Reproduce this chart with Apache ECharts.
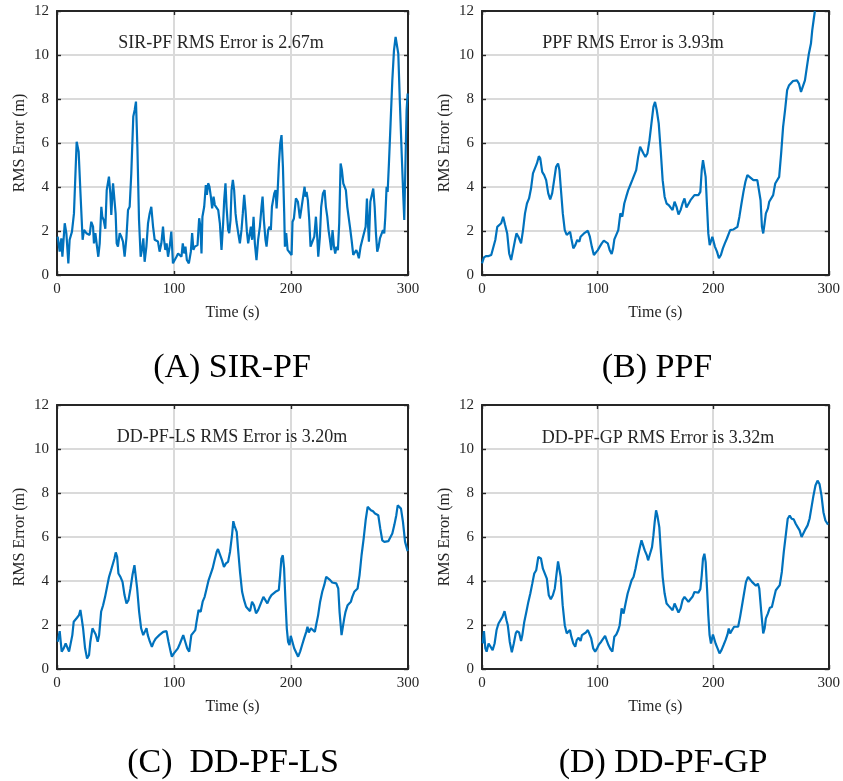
<!DOCTYPE html>
<html>
<head>
<meta charset="utf-8">
<title>RMS Error</title>
<script src="https://cdn.jsdelivr.net/npm/echarts@6/dist/echarts.min.js"></script>
<style>
html, body { margin: 0; padding: 0; background: #fff; }
#chart { width: 843px; height: 781px; }
</style>
</head>
<body>
<div id="chart"></div>
<script>
// [time (s), rms error (m)]
var sirpf = [[0.6,1.74],[2.3,1.06],[3.7,1.67],[4.6,0.83],[6.6,2.35],[8,1.9],[9.7,0.53],[10.8,1.6],[12.8,1.97],[14.5,2.8],[16.8,6.06],[18.5,5.6],[20.2,3.56],[21.9,1.6],[23.1,2.05],[25.1,1.9],[26.5,1.97],[27.9,1.82],[29.3,2.42],[30.8,2.2],[31.6,1.44],[32.8,1.9],[34.2,1.29],[35.3,0.83],[36.5,1.44],[37.9,3.1],[38.7,2.65],[39.9,2.5],[41.3,2.1],[42.5,3.86],[43.6,3.94],[44.4,4.47],[45.6,3.7],[46.4,2.73],[47.9,4.17],[49.3,4.17],[50.1,2.8],[51,1.44],[52.1,1.29],[53.6,1.9],[55,1.74],[56.4,1.52],[57.8,0.83],[59.3,1.67],[60.7,2.95],[62.1,3.1],[63.5,4.62],[65.2,7.2],[66.4,7.5],[67.5,7.88],[68.7,5.83],[70.1,2.5],[71.5,0.83],[72.6,1.14],[73.8,1.67],[74.9,0.6],[76.4,1.29],[77.8,2.35],[79.2,2.8],[80.6,3.1],[82.1,2.2],[83.5,1.6],[84.9,1.52],[86.3,1.52],[87.7,1.06],[89.2,1.44],[90.6,2.2],[91.5,1.6],[92.6,1.14],[93.7,1.44],[94.9,0.83],[96.3,1.29],[97.7,1.97],[99.1,0.53],
  [100.7,0.53],[102.1,0.83],[103.5,0.98],[104.9,0.91],[106.4,0.83],[107.5,1.44],[108.7,0.98],[109.8,1.29],[111,0.68],[112.7,0.53],[114.4,1.06],[115.5,1.9],[116.6,1.14],[117.8,1.29],[118.9,1.29],[120.1,1.36],[121.5,2.58],[122.6,2.2],[123.5,0.98],[124.3,2.65],[125.8,3.1],[127.2,4.09],[128.1,3.64],[129.2,4.17],[130.3,4.02],[131.5,3.56],[132.6,3.03],[133.8,3.56],[134.9,3.18],[136.6,3.1],[137.8,2.95],[139.2,2.35],[140.6,1.14],[142,2.35],[142.9,3.41],[144,4.17],[144.9,3.1],[146.3,2.05],[147.2,1.9],[148.3,2.5],[149.2,3.86],[150.3,4.32],[151.4,3.86],[152.6,2.8],[153.4,2.42],[154.9,1.9],[156.3,1.44],[157.7,2.05],[158.8,2.8],[160,3.64],[161.1,2.95],[162.3,1.97],[163.4,1.44],[164.8,1.9],[165.7,2.2],[166.8,1.6],[168,2.65],[169.1,1.44],[170.5,0.68],[171.9,1.6],[173.4,2.2],[174.8,3.1],[175.7,3.56],[176.8,2.5],[178.2,1.6],[179.1,1.29],[180.5,2.05],[181.7,2.2],[182.8,2.05],[183.7,3.1],[184.8,3.18],[185.7,3.71],[186.8,3.86],[187.7,3.03],[188.5,3.71],[189.7,5.08],[190.8,5.98],[191.9,6.36],[193.1,4.92],[194.2,2.8],[194.8,1.29],[195.9,1.9],[197.1,1.14],[198.5,1.14],
  [199,1.13],[200.5,0.91],[201.3,2.42],[202.5,2.57],[204.2,3.48],[205.9,3.33],[207.6,2.57],[208.7,2.95],[210.4,3.03],[211.6,4.01],[212.4,3.56],[213.3,3.78],[214.4,3.4],[215.6,2.5],[216.7,1.29],[218.4,1.29],[219.9,1.74],[221.3,2.65],[222.4,1.74],[223.3,0.83],[224.7,1.74],[225.8,3.1],[227.3,3.71],[228.7,3.86],[229.8,3.1],[231,2.65],[232.1,2.04],[233.3,1.59],[234.4,1.13],[235.5,2.04],[236.7,1.29],[237.8,0.98],[238.9,1.29],[240.1,1.13],[241.2,2.34],[242.4,5.07],[243.5,4.77],[244.7,4.16],[245.8,4.24],[246.9,3.86],[248.1,3.1],[249.2,2.65],[250.4,2.19],[251.8,1.59],[253.2,0.91],[254.6,0.83],[255.8,1.13],[256.9,0.98],[258,0.76],[259.5,1.29],[260.9,1.59],[262.3,1.89],[263.8,2.19],[264.9,3.48],[265.8,2.34],[266.6,1.51],[267.8,3.33],[269.2,3.4],[270.3,3.93],[271.5,3.1],[272.6,1.89],[273.7,1.06],[274.9,1.29],[276,1.66],[277.5,1.74],[278.6,2.04],[279.7,1.89],[280.6,2.65],[281.7,4.01],[282.6,3.78],[283.7,5.07],[285.1,6.88],[286.6,8.85],[288,10.2],[289.4,10.82],[290.6,10.89],[291.7,10.06],[293.1,7.79],[294.6,5.52],[296,3.56],[296.8,2.5],[297.7,4.77],[298.8,7.49],[299.7,8.25]];

var ppf = [[0,0.53],[1.7,0.8],[3.7,0.86],[5.7,0.86],[8,0.91],[9.7,0.83],[11.5,1.59],[13.2,2.19],[14.9,2.12],[16.6,2.35],[18.3,2.65],[20,2.27],[21.8,1.89],[23.5,0.98],[25.2,0.68],[26.9,1.13],[28.6,1.59],[29.8,1.89],[31.5,1.74],[32.6,1.82],[33.8,1.44],[35.5,2.04],[37.2,2.8],[38.9,3.25],[40.7,3.48],[42.4,3.93],[44.1,4.62],[45.8,4.69],[47.5,5.07],[49.2,5.4],[50.4,5.3],[52.1,4.69],[53.8,4.54],[55.5,4.31],[57.3,3.71],[59,3.44],[60.7,3.71],[62.4,4.31],[64.1,4.92],[65.8,5.07],[67,4.77],[68.1,4.01],[69.9,2.8],[71.6,2.04],[73.3,1.82],[75,1.74],[76.2,1.97],[77.3,1.66],[79,1.21],[80.7,1.36],[82.4,1.59],[84.2,1.51],[85.3,1.74],[86.5,1.66],[88.2,1.89],[89.9,1.97],[91.6,2.01],[93.3,1.74],[95,1.29],[96.8,0.91],[98.5,0.98],[100.2,1.13],[101.9,1.29],[103.6,1.44],[105.4,1.56],[107.1,1.62],[108.8,1.44],[110.5,1.13],[112.2,0.95],[113.4,1.21],[114.5,1.62],[116.2,1.62],[117.9,2.04],[119.7,2.8],[121.4,2.65],[123.1,3.25],[124.8,3.56],[126.5,3.86],[128.3,4.09],[130,4.31],[131.7,4.39],[133.4,4.77],[135.1,5.37],[136.8,5.83],[138,5.86],[139.7,5.52],[141.4,5.37],[143.1,5.52],[144.9,6.13],[146.6,6.89],[148.3,7.64],[149.7,7.87],[151.2,7.49],[152.9,6.89],[154.6,5.67],[156.3,4.31],[158,3.56],[159.7,3.25],[161.5,3.18],[163.2,3.18],[164.9,2.95],[166.6,3.33],[168.3,3.1],[170,2.75],[171.8,2.95],[173.5,3.25],[175.2,3.48],[176.9,3.07],[178.6,3.07],[180.4,3.4],[182.1,3.4],[183.8,3.63],[185.5,3.63],[187.2,3.63],[188.9,3.78],[190.1,4.77],[191.2,5.22],[192.4,5.22],[193.5,4.46],[194.7,3.1],[195.8,1.89],[197,1.36],[198.1,1.29],[199.3,1.74],[200.4,1.74],[201.5,1.29],[203.3,1.06],[205,0.76],[206.7,0.91],[208.4,1.21],[210.1,1.44],[211.9,1.66],[213.6,1.89],[214.7,2.04],[215.9,1.97],[217.6,2.07],[219.3,2.07],[221,2.19],[222.7,2.65],[224.5,3.25],[226.2,3.78],[227.9,4.24],[229.6,4.54],[231.3,4.62],[233,4.39],[234.8,4.31],[236.5,4.24],[238.2,4.31],[239.9,4.24],[241,3.4],[242.2,2.19],[243.3,1.89],[244.5,2.35],[245.6,2.8],[247.4,3.03],[248.5,3.33],[250.2,3.4],[251.9,3.63],[253.7,4.16],[255.4,4.24],[257.1,4.46],[258.8,5.52],[260.5,6.73],[262.2,7.49],[264,8.4],[265.7,8.63],[267.4,8.7],[269.1,8.82],[270.8,8.78],[272.5,8.85],[274.2,8.7],[276,8.32],[277.7,8.32],[279.4,8.85],[281.1,9.46],[282.8,10.06],[284.6,10.52],[285.7,11.12],[286.9,11.58],[288,12.0]];

var ddpfls = [[0.6,1.24],[2.3,1.72],[4.0,0.79],[5.7,0.94],[7.4,1.16],[8.6,1.12],[10.3,0.79],[11.4,0.71],[13.1,1.54],[14.3,2.15],[16.0,2.18],[17.1,2.33],[18.8,2.45],[20.0,2.68],[21.1,2.3],[22.3,1.85],[24.0,0.94],[25.7,0.48],[27.4,0.64],[28.5,1.24],[30.3,1.85],[31.4,1.77],[33.1,1.57],[34.8,1.24],[36.0,1.54],[37.7,2.6],[39.4,2.9],[41.1,3.28],[42.8,3.74],[44.5,4.19],[46.2,4.49],[47.4,4.57],[49.1,5.02],[50.2,5.3],[51.4,5.1],[52.5,4.34],[54.2,4.19],[56.0,3.96],[57.7,3.36],[59.4,2.98],[61.1,3.13],[62.8,3.66],[64.5,4.27],[66.2,4.72],[67.4,4.64],[68.5,3.66],[70.2,2.6],[71.9,1.85],[73.7,1.54],[74.8,1.47],[76.5,1.85],[77.6,1.54],[79.4,1.24],[81.1,1.01],[82.8,1.24],[84.5,1.39],[85.6,1.32],[87.4,1.54],[89.1,1.47],[90.8,1.69],[92.5,1.66],[93.6,1.72],[95.3,1.24],[97.1,0.79],[98.2,0.56],[99.9,0.71],[101.6,0.79],[103.3,0.94],[105.1,1.16],[106.8,1.24],[107.9,1.54],[109.6,1.24],[111.3,0.94],[113.0,0.79],[114.8,1.54],[116.5,1.47],[118.2,1.77],[119.3,2.15],[121.0,2.68],[122.8,2.6],[124.5,3.06],[126.2,3.28],[127.9,3.66],[129.6,4.04],[131.3,4.12],[133.0,4.57],[134.7,4.95],[136.5,5.33],[137.6,5.45],[139.3,5.2],[141.0,4.95],[142.7,4.64],[144.4,4.8],[146.2,4.87],[147.9,5.33],[149.6,6.08],[150.7,6.72],[151.8,6.5],[153.6,6.23],[154.7,5.48],[156.4,4.42],[158.2,3.51],[159.9,3.13],[161.6,2.83],[163.3,2.87],[165.0,2.63],[166.7,3.06],[168.4,2.9],[170.1,2.53],[171.9,2.68],[173.6,2.75],[176.4,3.28],[178.1,3.13],[179.8,2.98],[181.6,3.21],[183.3,3.36],[185.0,3.28],[186.7,3.51],[188.4,3.43],[189.6,3.59],[190.7,4.27],[191.8,5.02],[193.0,5.17],[194.1,4.57],[195.3,3.06],[196.4,1.85],[197.5,1.24],[198.7,1.09],[199.8,1.51],[201.0,1.54],[202.7,0.94],[204.4,0.86],[206.1,0.56],[207.8,0.79],[209.5,1.09],[211.2,1.39],[213.0,1.69],[214.1,1.92],[215.2,1.66],[217.0,1.85],[218.7,1.92],[220.4,1.69],[221.5,2.0],[223.2,2.45],[224.9,3.06],[226.7,3.51],[228.4,3.81],[230.1,4.19],[231.8,4.15],[233.5,4.04],[235.2,3.93],[236.9,3.96],[238.7,3.89],[240.4,3.66],[241.5,2.6],[243.2,1.54],[244.4,1.47],[245.5,2.3],[246.6,2.6],[248.4,2.9],[250.1,2.98],[251.2,3.06],[252.4,3.28],[254.1,3.51],[255.8,3.54],[256.9,3.66],[258.6,4.27],[260.3,5.17],[262.1,5.93],[263.8,6.76],[265.5,7.37],[266.6,7.44],[268.3,7.22],[270.1,7.17],[271.8,7.07],[273.5,6.99],[274.6,6.99],[276.3,6.38],[278.0,5.85],[279.8,5.78],[281.5,5.81],[283.2,5.81],[284.9,5.9],[286.6,6.16],[288.3,6.54],[290.0,6.99],[291.2,7.44],[292.3,7.52],[294.0,7.29],[295.7,6.69],[297.5,5.78],[299.7,5.36]];

var ddpfgp = [[0.6,1.16],[1.7,1.72],[2.9,0.94],[4.0,0.79],[5.7,1.16],[7.4,1.12],[9.2,0.86],[10.9,1.16],[12.6,1.77],[14.3,2.07],[16.0,2.07],[17.7,2.37],[19.5,2.63],[21.2,2.22],[22.3,1.99],[24.0,1.24],[25.8,0.76],[27.5,1.16],[29.2,1.62],[30.3,1.72],[32.1,1.66],[33.8,1.27],[34.9,1.54],[36.6,2.15],[38.4,2.6],[40.1,3.05],[41.8,3.43],[43.5,3.88],[45.2,4.34],[46.9,4.49],[48.7,5.09],[49.8,5.17],[51.0,5.02],[52.7,4.56],[54.4,4.49],[56.1,4.11],[57.8,3.35],[59.5,3.17],[61.3,3.35],[63.0,3.66],[64.7,4.41],[65.8,4.89],[67.0,4.86],[68.1,4.18],[69.8,2.9],[71.6,1.99],[73.3,1.62],[74.4,1.62],[76.1,1.77],[77.3,1.47],[79.0,1.16],[80.7,1.01],[81.9,1.31],[83.6,1.42],[85.3,1.27],[86.5,1.54],[88.2,1.62],[89.9,1.66],[91.6,1.77],[92.7,1.84],[94.5,1.39],[96.2,0.94],[97.9,0.79],[99.6,0.94],[101.3,1.12],[103.1,1.24],[104.8,1.27],[106.5,1.51],[107.6,1.47],[109.4,1.09],[111.1,0.91],[112.8,0.79],[114.5,1.47],[116.2,1.57],[117.9,1.77],[119.1,1.99],[120.8,2.75],[122.5,2.52],[124.2,2.98],[126.0,3.43],[127.7,3.73],[129.4,4.03],[131.1,4.18],[132.8,4.56],[134.5,5.02],[136.3,5.47],[138.0,5.85],[139.1,5.77],[140.8,5.39],[142.6,5.17],[143.7,4.94],[145.4,5.24],[147.1,5.54],[148.3,6.07],[149.4,6.68],[150.6,7.21],[151.7,6.98],[153.4,6.45],[154.6,5.47],[156.3,4.18],[158.0,3.43],[159.7,2.98],[161.5,2.87],[163.2,2.9],[164.9,2.67],[166.6,2.98],[168.3,2.9],[170.0,2.57],[171.8,2.75],[173.5,3.13],[175.2,3.28],[176.9,3.2],[178.6,3.05],[180.3,3.17],[182.1,3.28],[183.8,3.5],[185.5,3.43],[187.2,3.47],[188.9,3.63],[190.1,4.26],[191.2,5.02],[192.4,5.24],[193.5,4.86],[194.7,3.66],[195.8,2.45],[196.9,1.54],[198.1,1.16],[199.8,1.57],[201.0,1.54],[202.1,1.16],[203.8,0.94],[205.5,0.71],[207.2,0.86],[209.0,1.09],[210.7,1.31],[212.4,1.57],[213.5,1.84],[214.7,1.62],[216.4,1.77],[218.1,1.92],[219.8,1.84],[221.6,1.92],[223.3,2.37],[225.0,2.9],[226.7,3.43],[228.4,3.96],[230.2,4.18],[231.9,4.18],[233.6,3.96],[235.3,4.03],[237.0,3.78],[238.7,3.88],[239.9,3.66],[241.6,2.6],[243.3,1.62],[244.5,1.84],[245.6,2.3],[247.3,2.52],[249.0,2.78],[250.8,2.82],[252.5,3.2],[254.2,3.58],[255.9,3.66],[257.6,3.81],[259.4,4.41],[261.1,5.32],[262.8,6.07],[264.5,6.83],[266.2,6.98],[267.9,6.83],[269.7,6.8],[271.4,6.6],[273.1,6.45],[274.8,6.3],[276.5,6.0],[278.2,6.0],[280.0,6.37],[281.7,6.53],[283.4,6.83],[285.1,7.36],[286.8,7.89],[288.5,8.34],[290.3,8.56],[292.0,8.41],[293.7,7.89],[295.4,7.13],[297.1,6.75],[299.4,6.56]];

var captions = ['(A) SIR-PF', '(B) PPF', '(C)  DD-PF-LS', '(D) DD-PF-GP'];
var notes = ['SIR-PF RMS Error is 2.67m', 'PPF RMS Error is 3.93m', 'DD-PF-LS RMS Error is 3.20m', 'DD-PF-GP RMS Error is 3.32m'];
var timeTicks = [0, 100, 200, 300];
var errTicks = [0, 2, 4, 6, 8, 10, 12];

var allData = [sirpf, ppf, ddpfls, ddpfgp];

var chart = echarts.init(document.getElementById('chart'));

var serif = '"Liberation Serif", "DejaVu Serif", serif';
var ink = '#262626';

// plot boxes, one per panel
var boxes = [
    { left: 57, top: 11, width: 351, height: 264 },
    { left: 482, top: 11, width: 350, height: 264 },
    { left: 57, top: 405, width: 351, height: 264 },
    { left: 482, top: 405, width: 350, height: 264 }
];
var noteAt = [[221, 43], [633, 43], [232, 437], [658, 438]];
var captionAt = [[232, 368], [657, 368], [233, 763], [663, 763]];

var grids = [], xAxes = [], yAxes = [], series = [], graphics = [];

function frameAxis(gi, pos, isX) {
    var ticks = isX ? timeTicks : errTicks;
    var ax = {
        type: 'value',
        gridIndex: gi,
        position: pos,
        min: ticks[0],
        max: ticks[ticks.length - 1],
        interval: ticks[1] - ticks[0],
        axisLine: { show: true, onZero: false, lineStyle: { color: ink, width: 2 } },
        axisTick: { show: true, inside: true, length: 4, lineStyle: { color: ink, width: 1.4 } },
        splitLine: { show: false },
        axisLabel: { show: false }
    };
    return ax;
}

for (var i = 0; i < 4; i++) {
    grids.push(boxes[i]);

    var xb = frameAxis(i, 'bottom', true);
    xb.axisLabel = { show: true, color: ink, fontFamily: serif, fontSize: 15, margin: 7 };
    xb.splitLine = { show: true, lineStyle: { color: '#dadada', width: 2 } };
    xb.name = 'Time (s)';
    xb.nameLocation = 'middle';
    xb.nameGap = 30;
    xb.nameTextStyle = { color: ink, fontFamily: serif, fontSize: 16 };
    xAxes.push(xb);

    var yl = frameAxis(i, 'left', false);
    yl.axisLabel = { show: true, color: ink, fontFamily: serif, fontSize: 15, margin: 8 };
    yl.splitLine = { show: true, lineStyle: { color: '#dadada', width: 2 } };
    yl.name = 'RMS Error (m)';
    yl.nameLocation = 'middle';
    yl.nameGap = 29;
    yl.nameTextStyle = { color: ink, fontFamily: serif, fontSize: 16 };
    yAxes.push(yl);

    series.push({
        type: 'line',
        xAxisIndex: i,
        yAxisIndex: i,
        data: allData[i],
        showSymbol: false,
        clip: true,
        lineStyle: { color: '#0072BD', width: 2.2 },
        itemStyle: { color: '#0072BD' },
        z: 3
    });

    graphics.push({
        type: 'text', x: noteAt[i][0], y: noteAt[i][1], z: 10,
        style: { text: notes[i], align: 'center', verticalAlign: 'middle',
                 fill: ink, font: '18px ' + serif }
    });
    graphics.push({
        type: 'text', x: captionAt[i][0], y: captionAt[i][1],
        style: { text: captions[i], align: 'center', verticalAlign: 'middle',
                 fill: '#000', font: '34px ' + serif }
    });
}

// top and right edges of each box (MATLAB "box on"), ticks only
for (var j = 0; j < 4; j++) {
    xAxes.push(frameAxis(j, 'top', true));
    yAxes.push(frameAxis(j, 'right', false));
}

var option = {
    animation: false,
    backgroundColor: '#fff',
    grid: grids,
    xAxis: xAxes,
    yAxis: yAxes,
    series: series,
    graphic: graphics
};
chart.setOption(option);
</script>
</body>
</html>
